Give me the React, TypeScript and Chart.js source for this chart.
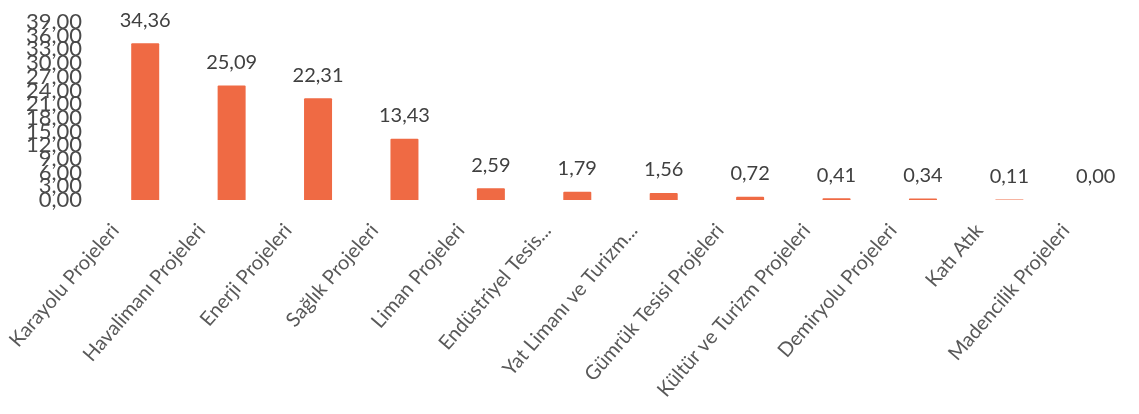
import React, { useEffect, useRef } from "react";
import { Chart, registerables } from "chart.js";

Chart.register(...registerables);

const categories = [
  "Karayolu Projeleri",
  "Havalimanı Projeleri",
  "Enerji Projeleri",
  "Sağlık Projeleri",
  "Liman Projeleri",
  "Endüstriyel Tesis...",
  "Yat Limanı ve Turizm...",
  "Gümrük Tesisi Projeleri",
  "Kültür ve Turizm Projeleri",
  "Demiryolu Projeleri",
  "Katı Atık",
  "Madencilik Projeleri",
];

const values = [34.36, 25.09, 22.31, 13.43, 2.59, 1.79, 1.56, 0.72, 0.41, 0.34, 0.11, 0.0];

const yMin = 0;
const yMax = 39;
const yStep = 3;

const fmt = (v: number) => v.toFixed(2).replace(".", ",");

const dataLabelPlugin = {
  id: "dataLabels",
  afterDatasetsDraw(chart: any) {
    const ctx = chart.ctx;
    const meta = chart.getDatasetMeta(0);
    ctx.save();
    ctx.font = "20px Lato";
    ctx.fillStyle = "#404040";
    ctx.textAlign = "center";
    ctx.textBaseline = "middle";
    meta.data.forEach((bar: any, i: number) => {
      ctx.fillText(fmt(values[i]), bar.x, bar.y - 23);
    });
    ctx.restore();
  },
};

export default function App() {
  const ref = useRef<HTMLCanvasElement | null>(null);

  useEffect(() => {
    if (!ref.current) return;
    const chart = new Chart(ref.current, {
      type: "bar",
      data: {
        labels: categories,
        datasets: [
          {
            data: values,
            backgroundColor: "#EF6A44",
            borderRadius: 1,
            barPercentage: 0.324,
            categoryPercentage: 1,
          },
        ],
      },
      options: {
        animation: false,
        responsive: false,
        maintainAspectRatio: false,
        layout: { padding: { top: 22, left: 0, right: 0, bottom: 0 } },
        plugins: {
          legend: { display: false },
          tooltip: { enabled: false },
        },
        scales: {
          x: {
            grid: { display: false, drawTicks: false },
            border: { display: false },
            ticks: {
              autoSkip: false,
              maxRotation: 49,
              minRotation: 49,
              padding: 19,
              labelOffset: -30,
              color: "#595959",
              font: { family: "Lato", size: 20 },
            },
            afterFit(scale: any) {
              scale.height = 214;
              scale.paddingLeft = 0;
              scale.paddingRight = 0;
            },
          },
          y: {
            min: yMin,
            max: yMax,
            grid: { display: false, drawTicks: false },
            border: { display: false },
            ticks: {
              stepSize: yStep,
              autoSkip: false,
              padding: 20,
              color: "#4a4a4a",
              font: { family: "Lato", size: 22 },
              callback: (v: any) => fmt(Number(v)),
            },
            afterFit(scale: any) {
              scale.width = 102;
              scale.paddingTop = 0;
              scale.paddingBottom = 0;
            },
          },
        },
      },
      plugins: [dataLabelPlugin],
    });
    return () => chart.destroy();
  }, []);

  return (
    <div style={{ position: "fixed", left: 0, top: 0, width: 1139, height: 414, background: "#fff" }}>
      <canvas ref={ref} width={1139} height={414} style={{ display: "block" }} />
    </div>
  );
}
